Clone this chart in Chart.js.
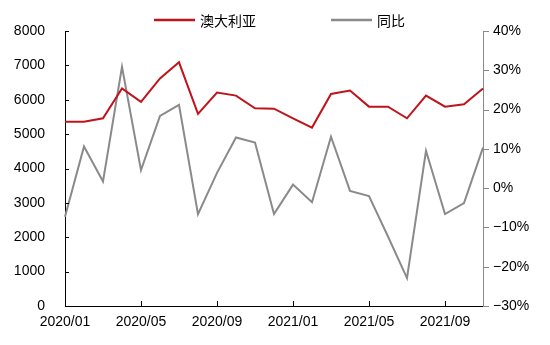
<!DOCTYPE html>
<html>
<head>
<meta charset="utf-8">
<script src="https://cdn.jsdelivr.net/npm/chart.js@4"></script>
<style>
html,body{margin:0;padding:0;background:#fff;}
#wrap{width:550px;height:345px;position:relative;}
</style>
</head>
<body>
<div id="wrap"><canvas id="c" width="550" height="345"></canvas></div>
<script>
const categories = ["2020/01","2020/02","2020/03","2020/04","2020/05","2020/06","2020/07","2020/08","2020/09","2020/10","2020/11","2020/12",
  "2021/01","2021/02","2021/03","2021/04","2021/05","2021/06","2021/07","2021/08","2021/09","2021/10","2021/11"];
const australia = [5360,5360,5460,6330,5940,6620,7090,5590,6210,6120,5750,5740,
  5460,5190,6170,6270,5800,5800,5460,6120,5800,5870,6330];
const yoy = [-7.3,10.6,1.7,30.9,4.6,18.4,21.2,-6.6,3.9,12.9,11.6,-6.6,
  0.9,-3.6,13.1,-0.7,-2.0,-12.3,-22.9,9.5,-6.6,-3.8,10.3];
const seriesNames = ["澳大利亚","同比"];
const leftTicks = [0,1000,2000,3000,4000,5000,6000,7000,8000];
const rightTicks = [-30,-20,-10,0,10,20,30,40];

const RED = "#C0141C";
const GRAY = "#8A8A8A";
const FONT = "'Liberation Sans', Arial, sans-serif";
const CJK = "'Noto Sans CJK SC', sans-serif";

const customDraw = {
  id: 'customDraw',
  afterDraw(chart) {
    const ctx = chart.ctx;
    const ca = chart.chartArea;
    const x = chart.scales.x, y = chart.scales.y, y1 = chart.scales.y1;
    ctx.save();
    ctx.lineWidth = 1;
    // x ticks (inward)
    ctx.strokeStyle = "#000";
    x.ticks.forEach((t, i) => {
      if (i % 4 === 0) {
        const px = Math.round(x.getPixelForTick(i)) + 0.5;
        ctx.beginPath(); ctx.moveTo(px, ca.bottom); ctx.lineTo(px, ca.bottom - 5); ctx.stroke();
      }
    });
    // left ticks (inward)
    y.ticks.forEach((t, i) => {
      const py = Math.round(y.getPixelForTick(i)) + 0.5;
      ctx.beginPath(); ctx.moveTo(ca.left, py); ctx.lineTo(ca.left + 4, py); ctx.stroke();
    });
    // right ticks (outward)
    ctx.strokeStyle = GRAY;
    y1.ticks.forEach((t, i) => {
      const py = Math.round(y1.getPixelForTick(i)) + 0.5;
      ctx.beginPath(); ctx.moveTo(ca.right, py); ctx.lineTo(ca.right + 6, py); ctx.stroke();
    });
    // legend
    const items = [
      {color: RED, text: seriesNames[0], x0: 154, x1: 195, tx: 200},
      {color: GRAY, text: seriesNames[1], x0: 331, x1: 372, tx: 377}
    ];
    ctx.font = "14px " + CJK;
    ctx.textBaseline = "middle";
    ctx.textAlign = "left";
    items.forEach(it => {
      ctx.strokeStyle = it.color; ctx.lineWidth = 2.5;
      ctx.beginPath(); ctx.moveTo(it.x0, 20); ctx.lineTo(it.x1, 20); ctx.stroke();
      ctx.fillStyle = "#000";
      ctx.fillText(it.text, it.tx, 21);
    });
    ctx.restore();
  }
};

new Chart(document.getElementById('c'), {
  type: 'line',
  data: {
    labels: categories,
    datasets: [
      {label: seriesNames[0], data: australia, yAxisID: 'y', borderColor: RED, backgroundColor: RED,
       borderWidth: 2, pointRadius: 0, tension: 0, order: 1},
      {label: seriesNames[1], data: yoy, yAxisID: 'y1', borderColor: GRAY, backgroundColor: GRAY,
       borderWidth: 2, pointRadius: 0, tension: 0, order: 2}
    ]
  },
  options: {
    responsive: false,
    animation: false,
    devicePixelRatio: 1,
    layout: {padding: {top: 31, left: 0, right: 0, bottom: 0}},
    plugins: {legend: {display: false}, tooltip: {enabled: false}},
    scales: {
      x: {
        offset: false,
        grid: {display: false, drawTicks: false},
        border: {display: true, color: "#000", width: 1},
        ticks: {
          autoSkip: false, maxRotation: 0, minRotation: 0, padding: 8,
          color: "#000", font: {family: FONT, size: 14},
          callback: function(v, i) { return i % 4 === 0 ? categories[i] : ''; }
        },
        afterFit(s) { s.height = 39; }
      },
      y: {
        position: 'left', min: 0, max: 8000,
        grid: {display: false, drawTicks: false},
        border: {display: true, color: "#000", width: 1},
        afterBuildTicks(s) { s.ticks = leftTicks.map(v => ({value: v})); },
        ticks: {padding: 20, color: "#000", font: {family: FONT, size: 14},
          callback: v => String(v)},
        afterFit(s) { s.width = 65; }
      },
      y1: {
        position: 'right', min: -30, max: 40,
        grid: {display: false, drawTicks: false},
        border: {display: true, color: GRAY, width: 1},
        afterBuildTicks(s) { s.ticks = rightTicks.map(v => ({value: v})); },
        ticks: {padding: 10, color: "#000", font: {family: FONT, size: 14},
          callback: v => (v < 0 ? '\u2212' + Math.abs(v) : v) + '%'},
        afterFit(s) { s.width = 67; }
      }
    }
  },
  plugins: [customDraw]
});
</script>
</body>
</html>
